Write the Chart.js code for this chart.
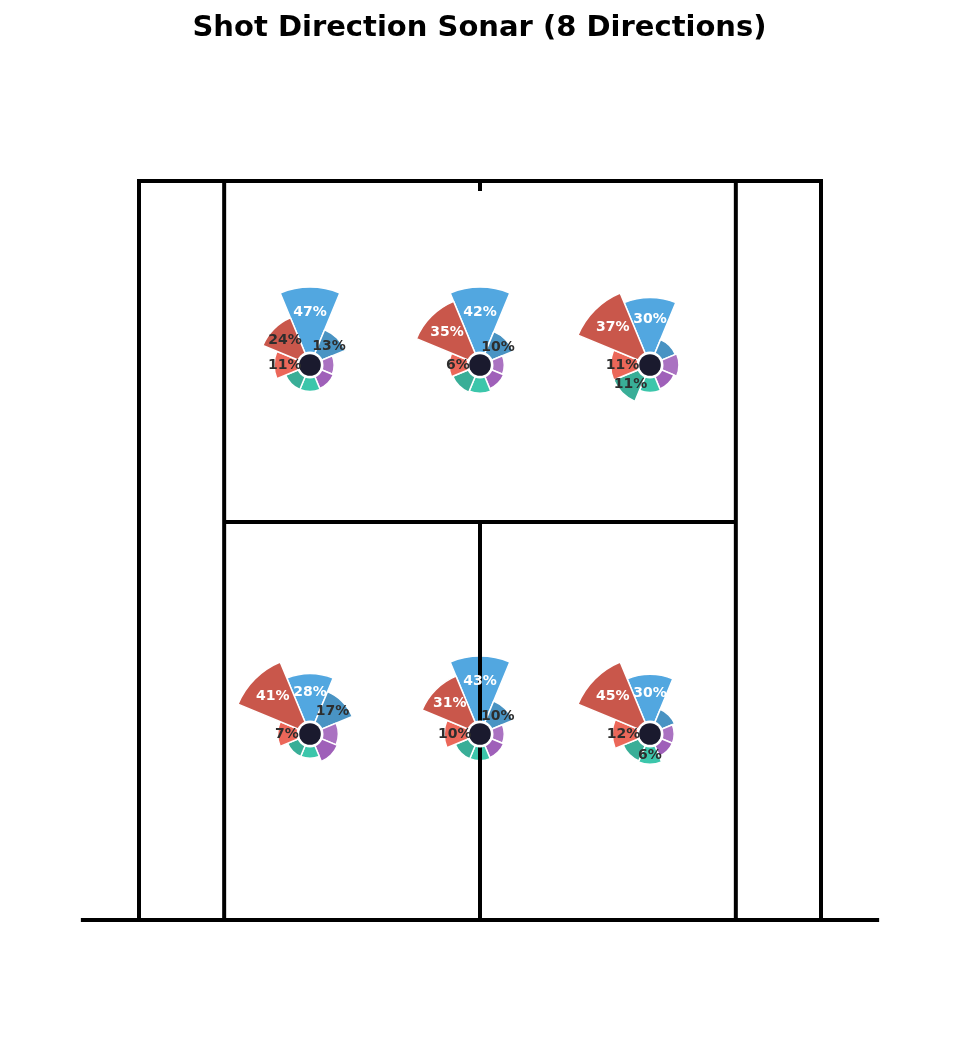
<!DOCTYPE html>
<html>
<head>
<meta charset="utf-8">
<script src="https://cdn.jsdelivr.net/npm/chart.js@4.4.0/dist/chart.umd.min.js"></script>
<style>
body{margin:0;background:#fff;}
#wrap{position:relative;width:959px;height:1059px;}
#wrap canvas{position:absolute;left:0;top:0;}
#court{z-index:2;}
.sonar{z-index:1;}
</style>
</head>
<body>
<div id="wrap"><canvas id="court" width="959" height="1059"></canvas></div>
<script>
// data
const directions = ['N','NE','E','SE','S','SW','W','NW'];
const zoneX = [-2.74, 0, 2.74, -2.74, 0, 2.74];   // metres from centre line
const zoneY = [8.92, 8.92, 8.92, 2.99, 2.99, 2.99]; // metres from net
const backLeft    = [47, 13, 1, 2, 3, 3, 11, 24];
const backCentre  = [42, 10, 1, 2, 4, 5, 6, 35];
const backRight   = [30, 3, 4, 2, 3, 11, 11, 37];
const frontLeft   = [28, 17, 4, 5, 1, 1, 7, 41];
const frontCentre = [43, 10, 1, 2, 3, 3, 10, 31];
const frontRight  = [30, 3, 1, 1, 6, 5, 12, 45];
const zoneValues = [backLeft, backCentre, backRight, frontLeft, frontCentre, frontRight];

// court dimensions (m)
const DOUBLES_HALF = 5.485, SINGLES_HALF = 4.115, HALF_LEN = 11.885, SERVICE = 6.40, NET_HALF = 6.42, MARK = 0.16;

const dirColors = ['rgba(52,152,219,0.85)','rgba(41,128,185,0.85)','rgba(155,89,182,0.85)','rgba(142,68,173,0.85)',
                   'rgba(26,188,156,0.85)','rgba(22,160,133,0.85)','rgba(231,76,60,0.85)','rgba(192,57,43,0.85)'];

const PX_PER_M = 62.17, NET_PX = 920, MID_PX = 480;
const TITLE_SIZE = 29, TITLE_PAD = {top: 11, bottom: 8};
const areaTop = TITLE_PAD.top + TITLE_SIZE * 1.2 + TITLE_PAD.bottom;
const HUB = 23, OUTER = 78, LABEL_MIN = 6;

const courtLines = [
  [{x:-DOUBLES_HALF,y:0},{x:-DOUBLES_HALF,y:HALF_LEN},{x:DOUBLES_HALF,y:HALF_LEN},{x:DOUBLES_HALF,y:0}],
  [{x:-SINGLES_HALF,y:0},{x:-SINGLES_HALF,y:HALF_LEN}],
  [{x:SINGLES_HALF,y:0},{x:SINGLES_HALF,y:HALF_LEN}],
  [{x:-SINGLES_HALF,y:SERVICE},{x:SINGLES_HALF,y:SERVICE}],
  [{x:0,y:0},{x:0,y:SERVICE}],
  [{x:0,y:HALF_LEN},{x:0,y:HALF_LEN-MARK}],
  [{x:-NET_HALF,y:0},{x:NET_HALF,y:0}]
];

const sonars = [];

const hubPlugin = {
  id: 'hubs',
  afterDatasetsDraw(chart) {
    const ctx = chart.ctx;
    sonars.forEach(s => {
      const sc = s.chart.scales.r;
      const hx = s.left + sc.xCenter, hy = s.top + sc.yCenter;
      ctx.save();
      ctx.beginPath(); ctx.arc(hx, hy, 13.5, 0, Math.PI*2); ctx.fillStyle = '#fff'; ctx.fill();
      ctx.beginPath(); ctx.arc(hx, hy, 10.8, 0, Math.PI*2); ctx.fillStyle = '#1a1a2e'; ctx.fill();
      ctx.font = 'bold 14px "DejaVu Sans"';
      ctx.textAlign = 'center'; ctx.textBaseline = 'middle';
      s.chart.getDatasetMeta(0).data.forEach((arc, i) => {
        const v = s.values[i];
        if (v < LABEL_MIN) return;
        const p = arc.getProps(['startAngle','endAngle','outerRadius'], true);
        const mid = (p.startAngle + p.endAngle) / 2;
        const r = 0.65 * p.outerRadius + 2;
        ctx.fillStyle = v >= 25 ? '#ffffff' : '#2d2d2d';
        ctx.fillText(v + '%', hx + Math.cos(mid)*r, hy + Math.sin(mid)*r);
      });
      ctx.restore();
    });
  }
};

const court = new Chart(document.getElementById('court'), {
  type: 'scatter',
  data: {
    datasets: courtLines.map(pts => ({
      data: pts, showLine: true, borderColor: '#000', borderWidth: 4,
      pointRadius: 0, borderJoinStyle: 'miter', borderCapStyle: 'butt', fill: false, tension: 0
    }))
  },
  options: {
    responsive: false, animation: false, events: [],
    layout: {padding: 0},
    plugins: {
      legend: {display: false}, tooltip: {enabled: false},
      title: {display: true, text: 'Shot Direction Sonar (8 Directions)', color: '#000',
              font: {family: 'DejaVu Sans', size: TITLE_SIZE, weight: 'bold'}, padding: TITLE_PAD}
    },
    scales: {
      x: {type: 'linear', display: false, min: -MID_PX / PX_PER_M, max: (959 - MID_PX) / PX_PER_M},
      y: {type: 'linear', display: false, min: -(1059 - NET_PX) / PX_PER_M, max: (NET_PX - areaTop) / PX_PER_M}
    }
  },
  plugins: [hubPlugin]
});

const SIZE = 164;
zoneValues.forEach((values, i) => {
  const cx = court.scales.x.getPixelForValue(zoneX[i]);
  const cy = court.scales.y.getPixelForValue(zoneY[i]);
  const cv = document.createElement('canvas');
  cv.width = SIZE; cv.height = SIZE; cv.className = 'sonar';
  const left = Math.round(cx - SIZE/2), top = Math.round(cy - SIZE/2);
  cv.style.left = left + 'px'; cv.style.top = top + 'px';
  document.getElementById('wrap').appendChild(cv);
  const max = Math.max(...values);
  const chart = new Chart(cv, {
    type: 'polarArea',
    data: {labels: directions, datasets: [{data: values, backgroundColor: dirColors, borderColor: '#fff', borderWidth: 1.5}]},
    options: {
      responsive: false, animation: false, events: [],
      layout: {padding: 4},
      plugins: {legend: {display: false}, tooltip: {enabled: false}},
      scales: {r: {display: false, startAngle: -22.5, min: -max * HUB / (OUTER - HUB), max: max}}
    }
  });
  sonars.push({chart, values, left, top});
});
court.draw();
</script>
</body>
</html>
